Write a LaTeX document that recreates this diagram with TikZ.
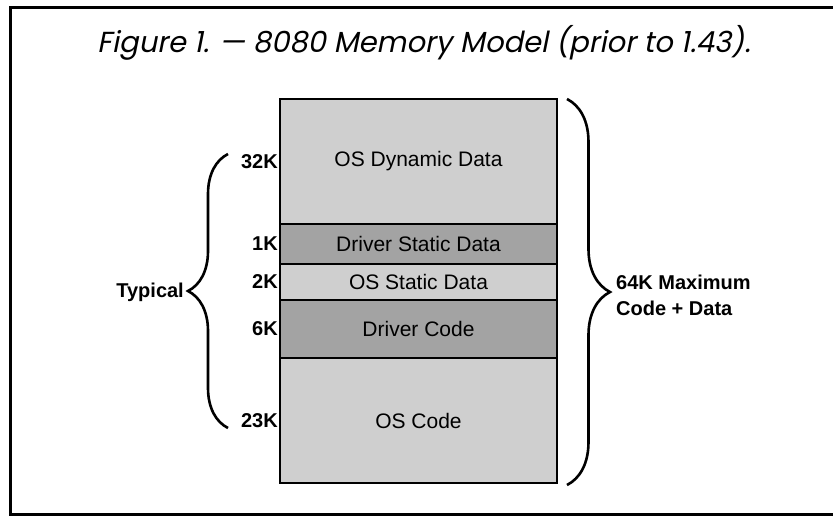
\documentclass[tikz,border=0pt]{standalone}
\usepackage{fontspec}
\setmainfont{Liberation Sans}
\newfontfamily\titlefont[FakeSlant=0.2]{Poppins}
\usetikzlibrary{calc,decorations.pathreplacing}

\tikzset{
    seg/.style={draw,line width=2.6pt,minimum width=277pt,inner sep=0pt,outer sep=0pt,font=\fontsize{21}{24}\selectfont},
    light/.style={seg,fill=black!19},
    dark/.style={seg,fill=black!36},
    size/.style={anchor=east,inner sep=2pt,font=\bfseries\fontsize{20}{24}\selectfont},
    curly/.style={decorate,line width=2.6pt}
}

\begin{document}
\begin{tikzpicture}[x=1pt,y=-1pt]
        \useasboundingbox (0,0) rectangle (833,517);
        \draw[line width=3pt] (833,7) -- (10,7) -- (10,514) -- (833,514);

        \node[anchor=base west,inner sep=0pt,font=\titlefont\fontsize{29}{32}\selectfont](title) at (97,52) {Figure 1. — 8080 Memory Model (prior to 1.43).};

        \node[light,minimum height=125pt](dyn) at (418.5,161.5) {OS Dynamic Data};
        \node[dark,minimum height=40pt](dstat) at (418.5,244) {Driver Static Data};
        \node[light,minimum height=36pt](ostat) at (418.5,282) {OS Static Data};
        \node[dark,minimum height=58pt](dcode) at (418.5,329) {Driver Code};
        \node[light,minimum height=125pt](oscode) at (418.5,420.5) {OS Code};

        \node[size](k32) at (dyn.west) {32K};
        \node[size](k1) at (dstat.west) {1K};
        \node[size](k2) at (ostat.west) {2K};
        \node[size](k6) at (dcode.west) {6K};
        \node[size](k23) at (oscode.west) {23K};

        \coordinate (typtop) at (228,154);
        \coordinate (typbot) at (228,428);
        \draw[curly,decoration={brace,amplitude=40pt}] (typbot) -- (typtop);
        \node[anchor=east,inner sep=0pt,font=\bfseries\fontsize{20}{24}\selectfont](typ) at (184,292) {Typical};

        \draw[curly,decoration={brace,amplitude=43pt}] ($(dyn.north east)+(10,0)$) -- ($(oscode.south east)+(10,2)$);
        \node[anchor=west,align=left,inner sep=0pt,font=\bfseries\fontsize{20}{26}\selectfont](max) at (616,295) {64K Maximum\\Code + Data};
    \end{tikzpicture}
\end{document}
